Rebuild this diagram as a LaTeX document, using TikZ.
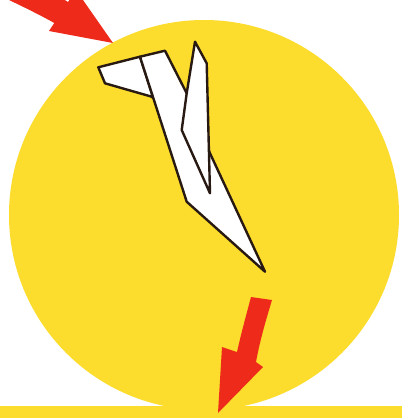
\documentclass[tikz,border=0pt]{standalone}
\definecolor{sunyellow}{RGB}{252,220,44}
\definecolor{arrowred}{RGB}{238,42,27}
\definecolor{outline}{RGB}{40,26,18}
\tikzset{
  planepart/.style={fill=white, draw=outline, line width=2.4pt, line join=round},
  redarrow/.style={fill=arrowred, draw=none}
}
\begin{document}
\begin{tikzpicture}[x=1pt,y=-1pt]
\useasboundingbox (0,0) rectangle (402,418);
\clip (0,0) rectangle (402,418);
\fill[white] (0,0) rectangle (402,418);
% sun disc and floor strip
\fill[sunyellow] (204,215) circle (195);
\fill[sunyellow] (0,406) rectangle (402,418);
% plane: tail plane, fuselage, wing
\path[planepart] (98.3,67.3) -- (140,56.7) -- (153.3,98.3) -- (151.7,96.7) -- (105,83.3) -- cycle;
\path[planepart] (140,56.7) -- (165,50.7) -- (186.7,93.3) -- (210,153.3) -- (265,271.7) -- (186.7,201.7) -- cycle;
\path[planepart] (195,41.7) -- (206.7,63.3) -- (210,193.3) -- (181.7,130) -- (186.7,93.3) -- cycle;
% top arrow
\path[redarrow] (-8,-8) .. controls (20,5) and (40,15) .. (54.3,23) -- (49,31) -- (113,43) -- (76,-10) -- (68,2) .. controls (52,-8) and (42,-15) .. (30,-25) -- cycle;
% bottom arrow
\path[redarrow] (251,297) -- (272,300) .. controls (266,320) and (260,340) .. (256,362) -- (263,367) -- (218,413) -- (222,347) -- (237,352) .. controls (242,330) and (247,312) .. (251,297) -- cycle;
\end{tikzpicture}
\end{document}
